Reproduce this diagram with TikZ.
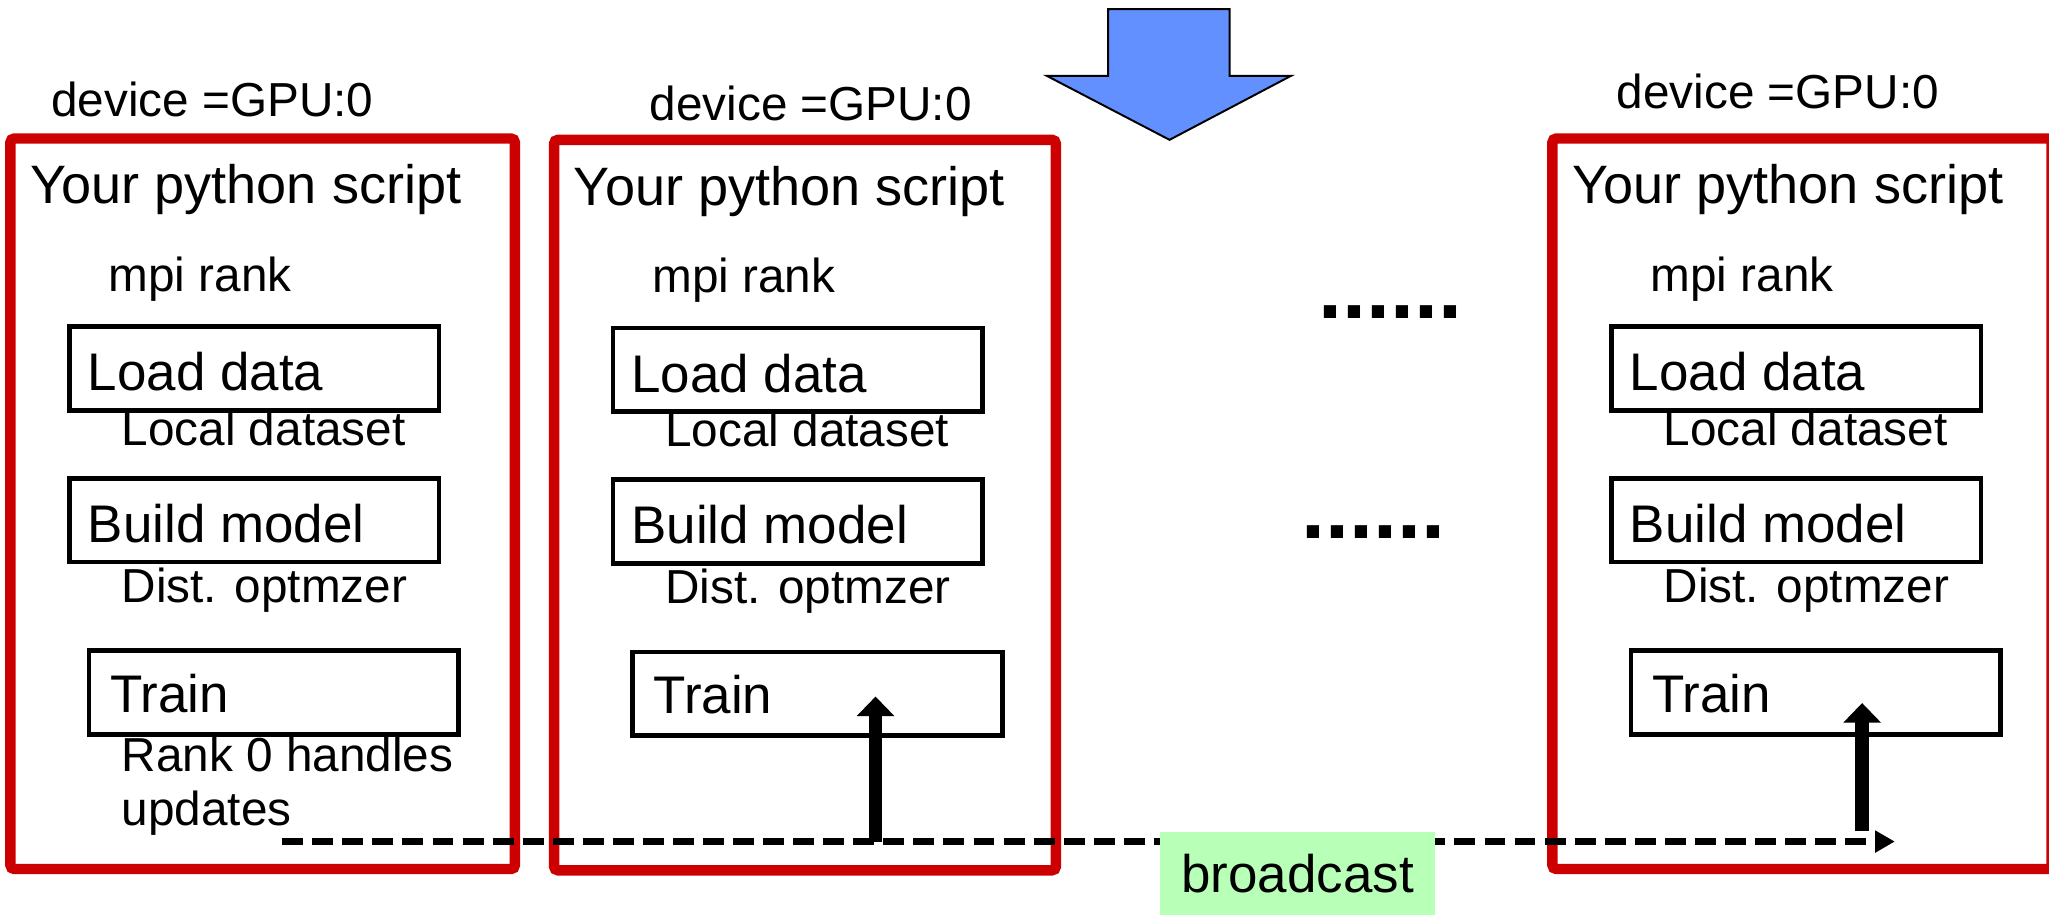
\documentclass[tikz,border=0pt]{standalone}
\usepackage{fontspec}
\setmainfont{Liberation Sans}
\usetikzlibrary{arrows.meta}
\definecolor{boxred}{RGB}{204,0,0}
\definecolor{arrowblue}{RGB}{98,145,255}
\definecolor{bcgreen}{RGB}{184,255,184}
\newcommand\titletxt{\fontsize{41.4}{48}\selectfont}
\newcommand\bigtxt{\fontsize{40.5}{48}\selectfont}
\newcommand\smalltxt{\fontsize{36.5}{44}\selectfont}
\newcommand\dotstxt{\fontsize{66}{80}\selectfont\bfseries}
\tikzset{
  redbox/.style={draw=boxred, line width=8pt, rounded corners=3pt, anchor=north west, outer sep=0pt, inner sep=0pt, minimum height=559pt},
  stepbox/.style={draw=black, line width=3.5pt, anchor=north west, outer sep=0pt, inner sep=0pt, minimum width=283pt, minimum height=64pt},
  titlet/.style={anchor=base west, inner sep=0pt, font=\titletxt},
  bigt/.style={anchor=base west, inner sep=0pt, font=\bigtxt},
  smallt/.style={anchor=base west, inner sep=0pt, font=\smalltxt},
  dotst/.style={anchor=base west, inner sep=0pt, font=\dotstxt},
  dashline/.style={line width=5pt, dash pattern=on 16pt off 7pt, -{Triangle[width=16pt,length=15pt]}},
  thickarrow/.style={line width=10.5pt, -{Triangle[width=28pt,length=15pt]}},
  bcbox/.style={fill=bcgreen, anchor=north west, inner sep=0pt, outer sep=0pt, minimum width=210pt, minimum height=63pt, font=\bigtxt},
}
% #1 suffix, #2 dx, #3 dy, #4 frame width
\newcommand\pycol[4]{%
  \begin{scope}[shift={(#2,#3)}]
    \node[redbox, minimum width=#4pt] (frame#1) at (8,106) {};
    \node[titlet] (title#1) at (23,156) {Your python script};
    \node[smallt] (mpi#1) at (83,223) {mpi rank};
    \node[stepbox] (load#1) at (53,250) {};
    \node[bigt] (loadt#1) at (67,299) {Load data};
    \node[smallt] (local#1) at (93,341) {Local dataset};
    \node[stepbox] (build#1) at (53,366) {};
    \node[bigt] (buildt#1) at (67,415) {Build model};
    \node[smallt] (dist#1) at (93,461) {Dist. optmzer};
    \node[stepbox] (train#1) at (68,498) {};
    \node[bigt] (traint#1) at (84,545) {Train};
  \end{scope}}
\begin{document}
\begin{tikzpicture}[x=1pt,y=-1pt]
  \useasboundingbox (0,0) rectangle (1568,702);
  \begin{scope}
    \clip (0,0) rectangle (1568,702);
    % blue arrow
    \filldraw[fill=arrowblue, draw=black, line width=1.5pt, line join=miter]
      (848,7) -- (941,7) -- (941,58) -- (988,58) -- (895,107) -- (801,58) -- (848,58) -- cycle;
    % device labels
    \node[smallt] (dev1) at (39,89) {device =GPU:0};
    \node[smallt] (dev2) at (497,92) {device =GPU:0};
    \node[smallt] (dev3) at (1237,83) {device =GPU:0};
    % columns
    \pycol{1}{0}{0}{386}
    \pycol{2}{416}{1}{384}
    \pycol{3}{1180}{0}{382}
    \node[smallt] (rank0) at (93,590) {Rank 0 handles};
    \node[smallt] (upd) at (93,632) {updates};
    % dots
    \node[dotst] (dotsA) at (1008.5,244) {......};
    \node[dotst] (dotsB) at (995.5,412) {......};
    % broadcast
    \coordinate (bcs) at (216,644);
    \coordinate (bce) at (1450,644);
    \draw[dashline] (bcs) -- (bce);
    \coordinate (up2s) at (670,644);
    \coordinate (up2e) at (670,533);
    \draw[thickarrow] (up2s) -- (up2e);
    \coordinate (up3s) at (1425,636);
    \coordinate (up3e) at (1425,538);
    \draw[thickarrow] (up3s) -- (up3e);
    \node[bcbox] (bc) at (888,637) {broadcast};
  \end{scope}
\end{tikzpicture}
\end{document}
